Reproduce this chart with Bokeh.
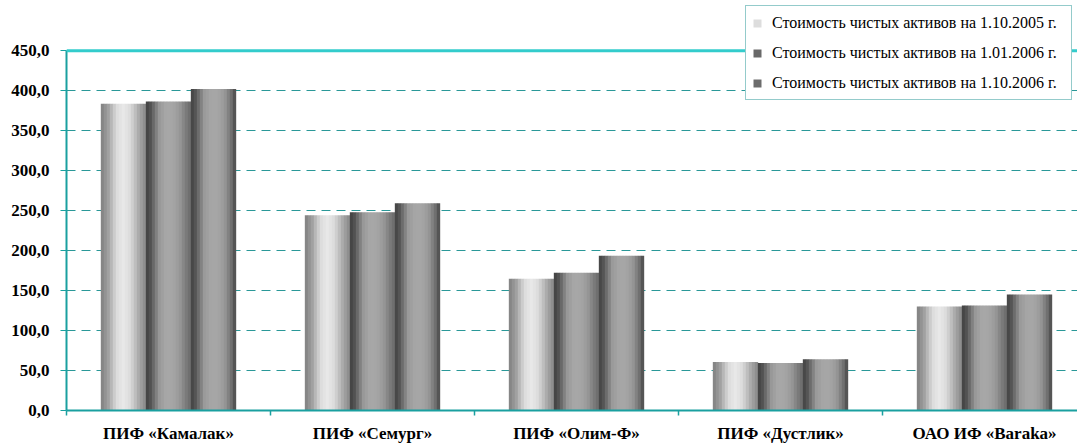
import numpy as np
from bokeh.plotting import figure
from bokeh.models import (Range1d, FixedTicker, Span, Legend, LegendItem,
                          ColumnDataSource)
from bokeh.embed import file_html
from bokeh.resources import INLINE

# ---------------- data ----------------
categories = ["ПИФ «Камалак»", "ПИФ «Семург»", "ПИФ «Олим-Ф»",
              "ПИФ «Дустлик»", "ОАО ИФ «Baraka»"]
series_names = ["Стоимость чистых активов на 1.10.2005 г.",
                "Стоимость чистых активов на 1.01.2006 г.",
                "Стоимость чистых активов на 1.10.2006 г."]
nav_2005_10 = [383.5, 244.3, 164.8, 60.5, 130.0]
nav_2006_01 = [386.3, 248.0, 172.3, 59.3, 131.3]
nav_2006_10 = [402.0, 259.3, 193.4, 64.2, 145.0]
y_ticks = [0, 50, 100, 150, 200, 250, 300, 350, 400, 450]
y_tick_labels = ["0,0", "50,0", "100,0", "150,0", "200,0", "250,0",
                 "300,0", "350,0", "400,0", "450,0"]
series_values = [nav_2005_10, nav_2006_01, nav_2006_10]

# ---------------- style ----------------
TEAL = "#1aa0a0"
GRID = "#2a9898"
FONT = "Liberation Serif"
N_STRIPS = 15
BAR_W = 0.2206
profiles = [
    ([0.0, 0.15, 0.35, 0.5, 0.65, 0.85, 1.0], [0x80, 0x9c, 0xdc, 0xe8, 0xdc, 0xa8, 0x88]),
    ([0.0, 0.1, 0.3, 0.45, 0.6, 0.75, 0.9, 1.0], [0x40, 0x52, 0x98, 0xa8, 0xa6, 0x98, 0x7a, 0x6a]),
    ([0.0, 0.1, 0.3, 0.45, 0.6, 0.75, 0.9, 1.0], [0x42, 0x55, 0x9a, 0xa6, 0xa6, 0x98, 0x70, 0x48]),
]
legend_strip = [5, 2, 2]

W, H = 1077, 445
FRAME_L, FRAME_R, FRAME_T, FRAME_B = 66, 1077, 5, 413
PX_PER_UNIT = (413 - 50.5) / 450.0
CAT_PX = 204.0
x_end = -0.5 + (FRAME_R - FRAME_L) / CAT_PX
y_end = (FRAME_B - FRAME_T) / PX_PER_UNIT

p = figure(width=W, height=H, output_backend="svg", toolbar_location=None,
           x_range=Range1d(-0.5, x_end), y_range=Range1d(0, y_end),
           min_border_left=FRAME_L, min_border_right=W - FRAME_R,
           min_border_top=FRAME_T, min_border_bottom=H - FRAME_B)
p.outline_line_color = None
p.background_fill_color = "white"
p.border_fill_color = "white"

renderers = []
for s, vals in enumerate(series_values):
    knots, levels = profiles[s]
    xs, tops, colors = [], [], []
    for i, v in enumerate(vals):
        for k in range(N_STRIPS):
            f = (k + 0.5) / N_STRIPS
            g = int(round(np.interp(f, knots, levels)))
            xs.append(i + (s - 1) * BAR_W - BAR_W / 2 + f * BAR_W)
            tops.append(v)
            colors.append("#%02x%02x%02x" % (g, g, g))
    src = ColumnDataSource(dict(x=xs, top=tops, color=colors))
    r = p.vbar(x="x", top="top", bottom=0, width=BAR_W / N_STRIPS * 1.12,
               fill_color="color", line_color=None, source=src)
    renderers.append(r)

# top border line at the last tick
p.add_layout(Span(location=y_ticks[-1], dimension="width",
                  line_color="#33cccc", line_width=3))

# grid
p.xgrid.visible = False
p.ygrid.ticker = FixedTicker(ticks=y_ticks[1:-1])
p.ygrid.grid_line_color = GRID
p.ygrid.grid_line_dash = "9 6"
p.ygrid.grid_line_width = 1.2

# y axis
p.yaxis.axis_label = None
p.yaxis.bounds = (y_ticks[0], y_ticks[-1])
p.yaxis.ticker = FixedTicker(ticks=y_ticks)
p.yaxis.major_label_overrides = dict(zip(y_ticks, y_tick_labels))
p.yaxis.axis_line_color = TEAL
p.yaxis.axis_line_width = 2
p.yaxis.major_tick_line_color = TEAL
p.yaxis.major_tick_out = 6
p.yaxis.major_tick_in = 0
p.yaxis.minor_tick_line_color = None
p.yaxis.major_label_standoff = 11
p.yaxis.major_label_text_font = FONT
p.yaxis.major_label_text_font_style = "bold"
p.yaxis.major_label_text_font_size = "17px"
p.yaxis.major_label_text_color = "black"

# x axis
cat_pos = list(range(len(categories)))
p.xaxis.axis_label = None
p.xaxis.ticker = FixedTicker(ticks=cat_pos,
                             minor_ticks=[c - 0.5 for c in cat_pos] + [len(categories) - 0.5])
p.xaxis.major_label_overrides = dict(zip(cat_pos, categories))
p.xaxis.axis_line_color = TEAL
p.xaxis.axis_line_width = 2
p.xaxis.major_tick_line_color = None
p.xaxis.major_tick_out = 0
p.xaxis.major_tick_in = 0
p.xaxis.minor_tick_line_color = TEAL
p.xaxis.minor_tick_line_width = 1.5
p.xaxis.minor_tick_out = 5
p.xaxis.minor_tick_in = 0
p.xaxis.major_label_standoff = 8
p.xaxis.major_label_text_font = FONT
p.xaxis.major_label_text_font_style = "bold"
p.xaxis.major_label_text_font_size = "17px"
p.xaxis.major_label_text_color = "black"

# legend
items = [LegendItem(label=series_names[s], renderers=[renderers[s]],
                    index=legend_strip[s]) for s in range(3)]
legend = Legend(items=items, location=(745 - FRAME_L, FRAME_B - 103), margin=0,
                padding=6, spacing=9, label_height=21, label_width=293,
                glyph_width=10, glyph_height=10, label_standoff=10,
                border_line_color=GRID, border_line_width=1.5,
                background_fill_color="white", background_fill_alpha=1.0,
                label_text_font=FONT, label_text_font_size="16px",
                label_text_color="black")
p.add_layout(legend)

open("out.html", "w").write(file_html(p, INLINE))
